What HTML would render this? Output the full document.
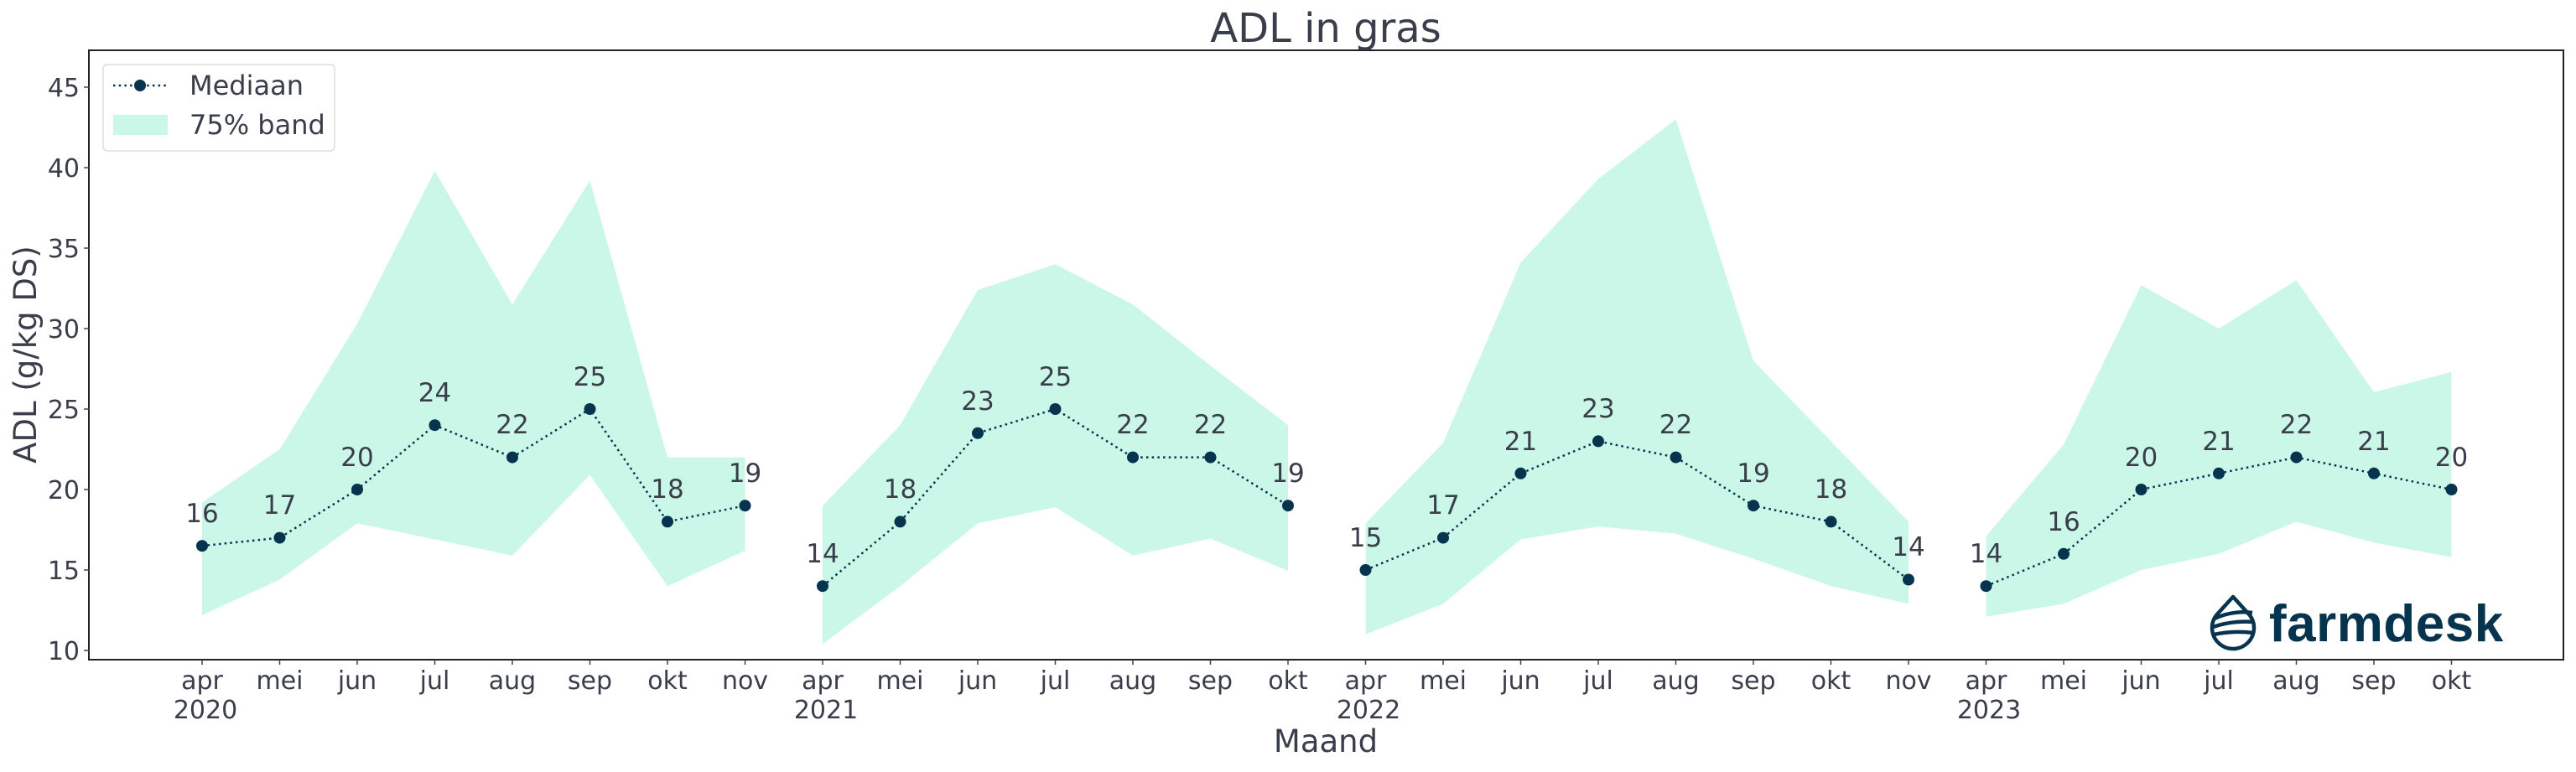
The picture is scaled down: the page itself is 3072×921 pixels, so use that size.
<!DOCTYPE html>
<html><head><meta charset="utf-8"><style>
html,body{margin:0;padding:0;background:#fff;}
svg{display:block;}
text{font-family:"DejaVu Sans","Liberation Sans",sans-serif;fill:#3a3d4a;}
</style></head><body>
<svg width="3072" height="921" viewBox="0 0 3072 921" xmlns="http://www.w3.org/2000/svg">
<rect width="3072" height="921" fill="#fff"/>
<g transform="matrix(92.5 0 0 -19.2 241 968)" fill="#cbf7e8">
<polygon points="0,19.2 1,22.5 2,30.3 3,39.8 4,31.5 5,39.2 6,22 7,22 7,16.2 6,14 5,20.9 4,15.9 3,16.9 2,17.9 1,14.4 0,12.2"/>
<polygon points="8,19 9,24 10,32.4 11,34 12,31.5 13,27.7 14,24 14,14.95 13,16.95 12,15.9 11,18.9 10,17.9 9,14 8,10.4"/>
<polygon points="15,17.9 16,22.9 17,34.1 18,39.3 19,43 20,28 21,23 22,18 22,12.9 21,14 20,15.7 19,17.25 18,17.7 17,16.9 16,12.9 15,11"/>
<polygon points="23,17.1 24,22.8 25,32.7 26,30 27,33 28,26.05 29,27.3 29,15.8 28,16.7 27,18 26,16 25,15 24,12.9 23,12.1"/>
</g>
<g fill="none" stroke="#06344f" stroke-width="2.5" stroke-dasharray="2.5,4.2">
<polyline points="241,651.2 333.5,641.6 426,584 518.5,507.2 611,545.6 703.5,488 796,622.4 888.5,603.2"/>
<polyline points="981,699.2 1073.5,622.4 1166,516.8 1258.5,488 1351,545.6 1443.5,545.6 1536,603.2"/>
<polyline points="1628.5,680 1721,641.6 1813.5,564.8 1906,526.4 1998.5,545.6 2091,603.2 2183.5,622.4 2276,691.5"/>
<polyline points="2368.5,699.2 2461,660.8 2553.5,584 2646,564.8 2738.5,545.6 2831,564.8 2923.5,584"/>
</g>
<g fill="#06344f">
<circle cx="241" cy="651.2" r="7"/><circle cx="333.5" cy="641.6" r="7"/><circle cx="426" cy="584" r="7"/><circle cx="518.5" cy="507.2" r="7"/><circle cx="611" cy="545.6" r="7"/><circle cx="703.5" cy="488" r="7"/><circle cx="796" cy="622.4" r="7"/><circle cx="888.5" cy="603.2" r="7"/>
<circle cx="981" cy="699.2" r="7"/><circle cx="1073.5" cy="622.4" r="7"/><circle cx="1166" cy="516.8" r="7"/><circle cx="1258.5" cy="488" r="7"/><circle cx="1351" cy="545.6" r="7"/><circle cx="1443.5" cy="545.6" r="7"/><circle cx="1536" cy="603.2" r="7"/>
<circle cx="1628.5" cy="680" r="7"/><circle cx="1721" cy="641.6" r="7"/><circle cx="1813.5" cy="564.8" r="7"/><circle cx="1906" cy="526.4" r="7"/><circle cx="1998.5" cy="545.6" r="7"/><circle cx="2091" cy="603.2" r="7"/><circle cx="2183.5" cy="622.4" r="7"/><circle cx="2276" cy="691.5" r="7"/>
<circle cx="2368.5" cy="699.2" r="7"/><circle cx="2461" cy="660.8" r="7"/><circle cx="2553.5" cy="584" r="7"/><circle cx="2646" cy="564.8" r="7"/><circle cx="2738.5" cy="545.6" r="7"/><circle cx="2831" cy="564.8" r="7"/><circle cx="2923.5" cy="584" r="7"/>
</g>
<g font-size="31" text-anchor="middle">
<text x="241" y="623">16</text><text x="333.5" y="613">17</text><text x="426" y="556">20</text><text x="518.5" y="479">24</text><text x="611" y="517">22</text><text x="703.5" y="460">25</text><text x="796" y="594">18</text><text x="888.5" y="575">19</text>
<text x="981" y="671">14</text><text x="1073.5" y="594">18</text><text x="1166" y="489">23</text><text x="1258.5" y="460">25</text><text x="1351" y="517">22</text><text x="1443.5" y="517">22</text><text x="1536" y="575">19</text>
<text x="1628.5" y="652">15</text><text x="1721" y="613">17</text><text x="1813.5" y="537">21</text><text x="1906" y="498">23</text><text x="1998.5" y="517">22</text><text x="2091" y="575">19</text><text x="2183.5" y="594">18</text><text x="2276" y="663">14</text>
<text x="2368.5" y="671">14</text><text x="2461" y="633">16</text><text x="2553.5" y="556">20</text><text x="2646" y="537">21</text><text x="2738.5" y="517">22</text><text x="2831" y="537">21</text><text x="2923.5" y="556">20</text>
</g>
<!-- logo -->
<g fill="none" stroke="#06344f" stroke-width="4.5">
<path d="M2663,712 L2643,734 A25,25 0 1 0 2683,734 Z" stroke-linejoin="round"/>
<path d="M2641,738 Q2662,728 2686,731"/>
<path d="M2639,748 Q2662,740 2688,742"/>
<path d="M2640,757 Q2663,752 2687,755"/>
</g>
<text x="2706" y="765" font-family="Liberation Sans,sans-serif" font-weight="bold" font-size="62" style="font-family:'Liberation Sans',sans-serif;fill:#06344f;letter-spacing:0.5px">farmdesk</text>
<!-- frame -->
<rect x="106" y="60" width="2951" height="727" fill="none" stroke="#222" stroke-width="2"/>
<g stroke="#444" stroke-width="1.5">
<line x1="100" y1="776" x2="106" y2="776"/><line x1="100" y1="680" x2="106" y2="680"/><line x1="100" y1="584" x2="106" y2="584"/><line x1="100" y1="488" x2="106" y2="488"/><line x1="100" y1="392" x2="106" y2="392"/><line x1="100" y1="296" x2="106" y2="296"/><line x1="100" y1="200" x2="106" y2="200"/><line x1="100" y1="104" x2="106" y2="104"/>
</g>
<g font-size="30" text-anchor="end">
<text x="95" y="787">10</text><text x="95" y="691">15</text><text x="95" y="595">20</text><text x="95" y="499">25</text><text x="95" y="403">30</text><text x="95" y="307">35</text><text x="95" y="211">40</text><text x="95" y="115">45</text>
</g>
<g stroke="#444" stroke-width="1.5">
<path d="M241,787v6M333.5,787v6M426,787v6M518.5,787v6M611,787v6M703.5,787v6M796,787v6M888.5,787v6M981,787v6M1073.5,787v6M1166,787v6M1258.5,787v6M1351,787v6M1443.5,787v6M1536,787v6M1628.5,787v6M1721,787v6M1813.5,787v6M1906,787v6M1998.5,787v6M2091,787v6M2183.5,787v6M2276,787v6M2368.5,787v6M2461,787v6M2553.5,787v6M2646,787v6M2738.5,787v6M2831,787v6M2923.5,787v6"/>
</g>
<g font-size="30" text-anchor="middle">
<text x="241" y="822">apr</text><text x="333.5" y="822">mei</text><text x="426" y="822">jun</text><text x="518.5" y="822">jul</text><text x="611" y="822">aug</text><text x="703.5" y="822">sep</text><text x="796" y="822">okt</text><text x="888.5" y="822">nov</text>
<text x="981" y="822">apr</text><text x="1073.5" y="822">mei</text><text x="1166" y="822">jun</text><text x="1258.5" y="822">jul</text><text x="1351" y="822">aug</text><text x="1443.5" y="822">sep</text><text x="1536" y="822">okt</text>
<text x="1628.5" y="822">apr</text><text x="1721" y="822">mei</text><text x="1813.5" y="822">jun</text><text x="1906" y="822">jul</text><text x="1998.5" y="822">aug</text><text x="2091" y="822">sep</text><text x="2183.5" y="822">okt</text><text x="2276" y="822">nov</text>
<text x="2368.5" y="822">apr</text><text x="2461" y="822">mei</text><text x="2553.5" y="822">jun</text><text x="2646" y="822">jul</text><text x="2738.5" y="822">aug</text><text x="2831" y="822">sep</text><text x="2923.5" y="822">okt</text>
<text x="245" y="857">2020</text><text x="985" y="857">2021</text><text x="1632" y="857">2022</text><text x="2372" y="857">2023</text>
</g>
<text x="1581" y="897" font-size="37" text-anchor="middle">Maand</text>
<text transform="translate(43,423) rotate(-90)" font-size="37" text-anchor="middle">ADL (g/kg DS)</text>
<text x="1581" y="50" font-size="48" text-anchor="middle">ADL in gras</text>
<!-- legend -->
<rect x="123" y="77" width="276" height="103" rx="5" fill="#fff" fill-opacity="0.8" stroke="#ddd" stroke-width="1.5"/>
<line x1="135" y1="102" x2="198" y2="102" stroke="#06344f" stroke-width="2.5" stroke-dasharray="2.5,4.2"/>
<circle cx="167" cy="102" r="7" fill="#06344f"/>
<rect x="135" y="137" width="65" height="24" fill="#cbf7e8"/>
<text x="226" y="113" font-size="32">Mediaan</text>
<text x="226" y="160" font-size="32">75% band</text>
</svg>
</body></html>
